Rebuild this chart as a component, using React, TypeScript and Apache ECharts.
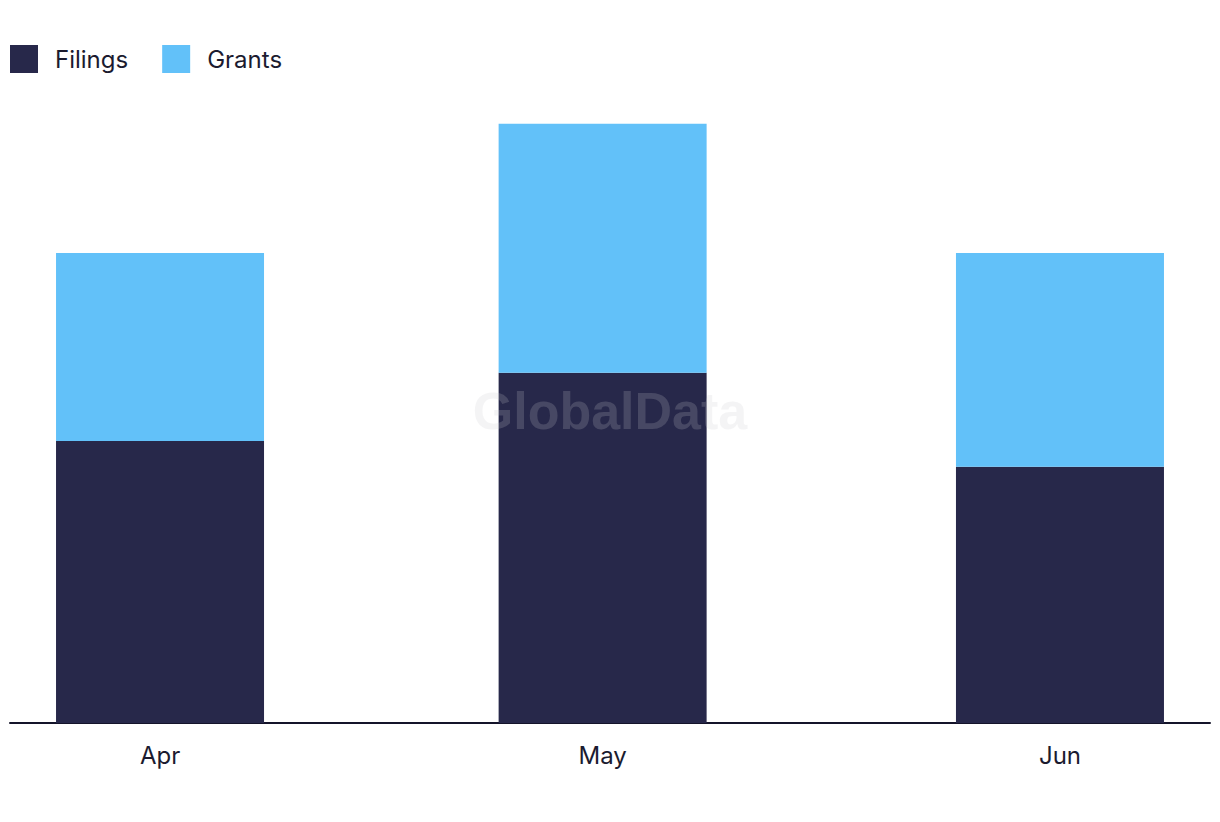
import React, { useEffect, useRef } from "react";
import * as echarts from "echarts";

const categories = ["Apr", "May", "Jun"];
const periodStarts = [new Date(2024, 3, 1).getTime(), new Date(2024, 4, 1).getTime(), new Date(2024, 5, 1).getTime()];
const filings = [12, 14.9, 10.9];
const grants = [8, 10.6, 9.1];
const seriesNames = ["Filings", "Grants"];

const DAY = 24 * 3600 * 1000;

export default function App() {
  const ref = useRef<HTMLDivElement>(null);
  useEffect(() => {
    if (!ref.current) return;
    const chart = echarts.init(ref.current, null, { renderer: "svg" });
    const font = "Inter, 'Noto Sans', sans-serif";
    chart.setOption({
      animation: false,
      backgroundColor: "#ffffff",
      legend: {
        left: 10,
        top: 45,
        padding: 0,
        icon: "rect",
        itemWidth: 28,
        itemHeight: 28,
        itemGap: 34,
        data: seriesNames,
        textStyle: { fontFamily: font, fontSize: 24, color: "#1b1b2f", padding: [0, 0, 2, 12] },
      },
      grid: { left: 10, right: 10, top: 65, bottom: 99 },
      xAxis: {
        type: "time",
        min: periodStarts[0] - 3.12 * DAY,
        max: periodStarts[2] + 3.12 * DAY,
        minInterval: 28 * DAY,
        axisLine: { show: true, onZero: false, lineStyle: { color: "#14142a", width: 2 } },
        axisTick: { show: false },
        splitLine: { show: false },
        axisLabel: {
          showMinLabel: false,
          showMaxLabel: false,
          hideOverlap: false,
          formatter: (v: number) => {
            const i = periodStarts.findIndex((p) => Math.abs(p - v) < DAY / 2);
            return i >= 0 ? categories[i] : "";
          },
          fontFamily: font,
          fontSize: 24,
          color: "#1b1b2f",
          margin: 20,
        },
      },
      yAxis: {
        type: "value",
        min: 0,
        max: 28,
        show: false,
        splitLine: { show: false },
      },
      series: [
        {
          name: seriesNames[0],
          type: "bar",
          stack: "total",
          barWidth: 208,
          itemStyle: { color: "#27284a" },
          data: periodStarts.map((t, i) => [t, filings[i]]),
        },
        {
          name: seriesNames[1],
          type: "bar",
          stack: "total",
          barWidth: 208,
          itemStyle: { color: "#62c1f9" },
          data: periodStarts.map((t, i) => [t, grants[i]]),
        },
      ],
      graphic: [
        {
          type: "text",
          x: 610,
          y: 411,
          z: 100,
          silent: true,
          style: {
            text: "GlobalData",
            fill: "rgba(200,200,205,0.2)",
            font: "bold 52px 'Liberation Sans', Arial, sans-serif",
            textAlign: "center",
            textVerticalAlign: "middle",
          },
        },
      ],
    });
    return () => chart.dispose();
  }, []);
  return <div ref={ref} style={{ position: "fixed", left: 0, top: 0, width: 1220, height: 822 }} />;
}
